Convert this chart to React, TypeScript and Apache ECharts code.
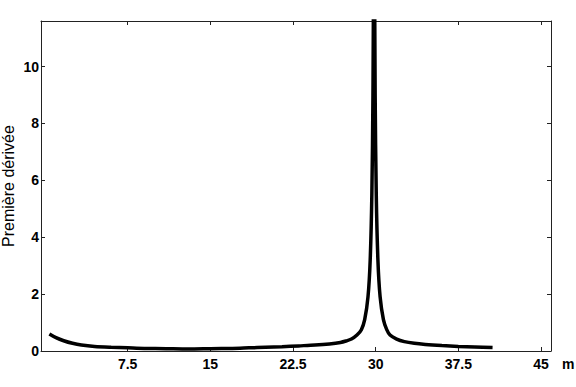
import React, { useEffect, useRef } from "react";
import * as echarts from "echarts";

const xValues = [
  0.4, 1.0, 1.7, 2.5, 3.3, 4.5, 6, 7.5, 9, 11, 13, 15, 17, 18.5, 20, 21.5, 23, 24.5, 25.8, 26.8,
  27.3, 27.8, 28.3, 28.7, 29.0, 29.3, 29.5, 29.65, 29.75, 29.85,
  29.95, 30.05, 30.2, 30.4, 30.7, 31.0, 31.3, 31.9, 32.6, 33.5, 34.5, 36, 37.5, 39, 40.6,
];
const yValues = [
  0.6, 0.47, 0.36, 0.27, 0.21, 0.16, 0.13, 0.11, 0.09, 0.08, 0.07, 0.08, 0.09, 0.11, 0.13, 0.15, 0.18, 0.21, 0.25, 0.3,
  0.35, 0.42, 0.56, 0.75, 1.1, 1.9, 3.2, 5.5, 9, 16,
  9, 5.5, 3.2, 1.9, 1.1, 0.75, 0.56, 0.42, 0.33, 0.27, 0.23, 0.19, 0.16, 0.14, 0.12,
];
const xTickValues = [7.5, 15, 22.5, 30, 37.5, 45];
const yTickValues = [0, 2, 4, 6, 8, 10];

const X_MIN = -0.36;
const X_MAX = 45.9;
const Y_MAX = 11.6;

export default function App() {
  const ref = useRef<HTMLDivElement>(null);
  useEffect(() => {
    if (!ref.current) return;
    const chart = echarts.init(ref.current, undefined, { renderer: "svg" });
    const axisColor = "#222";
    const labelStyle = {
      color: "#000",
      fontFamily: "Liberation Sans",
      fontWeight: "bold" as const,
      fontSize: 14,
    };
    chart.setOption({
      animation: false,
      backgroundColor: "#fff",
      grid: { left: 41, right: 25, top: 21, bottom: 36, containLabel: false, outerBoundsMode: "none" },
      xAxis: [
        {
          type: "value",
          min: X_MIN,
          max: X_MAX,
          name: "m",
          nameLocation: "end",
          nameGap: 11,
          nameMoveOverlap: false,
          nameTextStyle: { ...labelStyle, verticalAlign: "top", padding: [6, 0, 0, 0] },
          axisLine: { show: true, onZero: false, lineStyle: { color: axisColor, width: 1 } },
          axisTick: { show: true, inside: true, length: 4, customValues: xTickValues, lineStyle: { color: axisColor } },
          axisLabel: { ...labelStyle, margin: 6, customValues: xTickValues },
          splitLine: { show: false },
        },
        {
          type: "value",
          position: "top",
          min: X_MIN,
          max: X_MAX,
          axisLine: { show: true, onZero: false, lineStyle: { color: axisColor, width: 1 } },
          axisTick: { show: true, inside: true, length: 4, customValues: xTickValues, lineStyle: { color: axisColor } },
          axisLabel: { show: false },
          splitLine: { show: false },
        },
      ],
      yAxis: [
        {
          type: "value",
          min: 0,
          max: Y_MAX,
          name: "Première dérivée",
          nameLocation: "middle",
          nameGap: 25,
          nameMoveOverlap: false,
          nameTextStyle: { color: "#000", fontFamily: "Liberation Sans", fontSize: 16 },
          axisLine: { show: true, onZero: false, lineStyle: { color: axisColor, width: 1 } },
          axisTick: { show: true, inside: true, length: 4, customValues: yTickValues, lineStyle: { color: axisColor } },
          axisLabel: { ...labelStyle, margin: 2, customValues: yTickValues },
          splitLine: { show: false },
        },
        {
          type: "value",
          position: "right",
          min: 0,
          max: Y_MAX,
          axisLine: { show: true, onZero: false, lineStyle: { color: axisColor, width: 1 } },
          axisTick: { show: true, inside: true, length: 4, customValues: yTickValues, lineStyle: { color: axisColor } },
          axisLabel: { show: false },
          splitLine: { show: false },
        },
      ],
      series: [
        {
          type: "line",
          xAxisIndex: 0,
          yAxisIndex: 0,
          data: xValues.map((x, i) => [x, yValues[i]]),
          showSymbol: false,
          smooth: 0.3,
          clip: true,
          lineStyle: { color: "#000", width: 3.5 },
        },
      ],
    });
    return () => chart.dispose();
  }, []);
  return <div ref={ref} style={{ width: 576, height: 387, position: "absolute", left: 0, top: 0 }} />;
}
